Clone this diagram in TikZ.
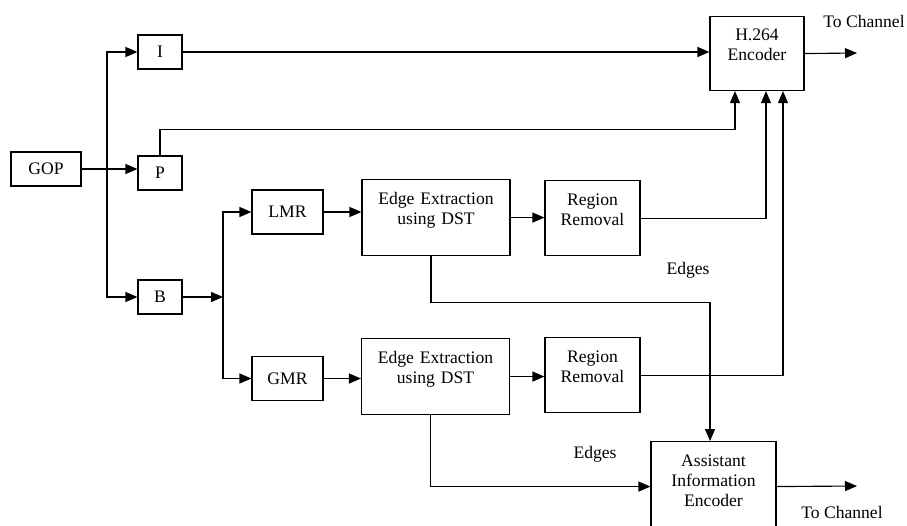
\documentclass[tikz,border=0pt]{standalone}
\usepackage{fontspec}
\setmainfont{Liberation Serif}
\usetikzlibrary{positioning,arrows.meta}

\begin{document}
\begin{tikzpicture}[x=0.75pt,y=-0.75pt,line width=0.85pt,>={Triangle[length=9pt,width=7.5pt]},
  font=\fontsize{13.2}{15}\selectfont,
  blk/.style={draw,inner sep=0pt,minimum height=25.5pt},
  tall/.style={draw,anchor=north,align=center,inner xsep=2pt,inner ysep=10pt,text height=9pt},
  lbl/.style={inner sep=0pt}]
  \useasboundingbox (0,0) rectangle (907,525);
  \node[blk,minimum width=52.5pt] (gop) at (46,169) {GOP};
  \node[blk,minimum width=33pt] (i) at (160,52) {I};
  \node[blk,minimum width=33pt] (p) at (160,173) {P};
  \node[blk,minimum width=33pt] (b) at (160,297) {B};
  \node[blk,minimum width=53.25pt,minimum height=33pt] (lmr) at (287.5,212) {LMR};
  \node[blk,minimum width=53.25pt,minimum height=33pt] (gmr) at (287.5,378.5) {GMR};
  \node[tall,text width=66.5pt,text depth=28.5pt,inner ysep=9pt] (enc) at (757,16) {H.264\\Encoder};
  \node[tall,text width=107pt,text depth=28pt] (edge1) at (436,179) {Edge Extraction\\using DST};
  \node[tall,text width=107pt,text depth=28pt] (edge2) at (435.5,338) {Edge Extraction\\using DST};
  \node[tall,text width=67.25pt,text depth=27.25pt] (rr1) at (592.5,180) {Region\\Removal};
  \node[tall,text width=67.25pt,text depth=27.25pt] (rr2) at (592.5,337) {Region\\Removal};
  \node[tall,text width=89.75pt,text depth=38.5pt] (asst) at (713.5,441) {Assistant\\Information\\Encoder};
  \node[lbl] (ch1) at (864,21) {To Channel};
  \node[lbl] (ch2) at (842,512) {To Channel};
  \node[lbl] (edg1) at (688,270) {Edges};
  \node[lbl] (edg2) at (595,454) {Edges};
  \coordinate (jn) at (107,169);
  \coordinate (jb) at (223,297);
  \coordinate (out1) at (857,53);
  \coordinate (out2) at (857,486);
  % splitting the GOP
  \draw[->] (gop.east) -- (gop.east -| p.west);
  \draw[->] (jn) |- (i.west);
  \draw[->] (jn) |- (b.west);
  \draw[->] (i.east) -- (i.east -| enc.west);
  \draw[->] (p.north) -- ++(0,-26) -| ([xshift=-16.5pt]enc.south);
  \draw[->] (enc.east) -- (out1);
  % B frames
  \draw[->] (b.east) -- (jb);
  \draw[->] (jb) |- (lmr.west);
  \draw[->] (jb) |- (gmr.west);
  \draw[->] (lmr.east) -- (lmr.east -| edge1.west);
  \draw[->] (gmr.east) -- (gmr.east -| edge2.west);
  \draw[->] (edge1.east) -- (edge1.east -| rr1.west);
  \draw[->] (edge2.east) -- (edge2.east -| rr2.west);
  \draw[->] (rr1.east) -| ([xshift=6.75pt]enc.south);
  \draw[->] (rr2.east) -| ([xshift=19.5pt]enc.south);
  \draw[->] ([xshift=-3.75pt]edge1.south) -- ++(0,46) -| ([xshift=-2.6pt]asst.north);
  \draw[->] ([xshift=-3.75pt]edge2.south) |- (asst.west);
  \draw[->] (asst.east) -- (out2);
\end{tikzpicture}
\end{document}
